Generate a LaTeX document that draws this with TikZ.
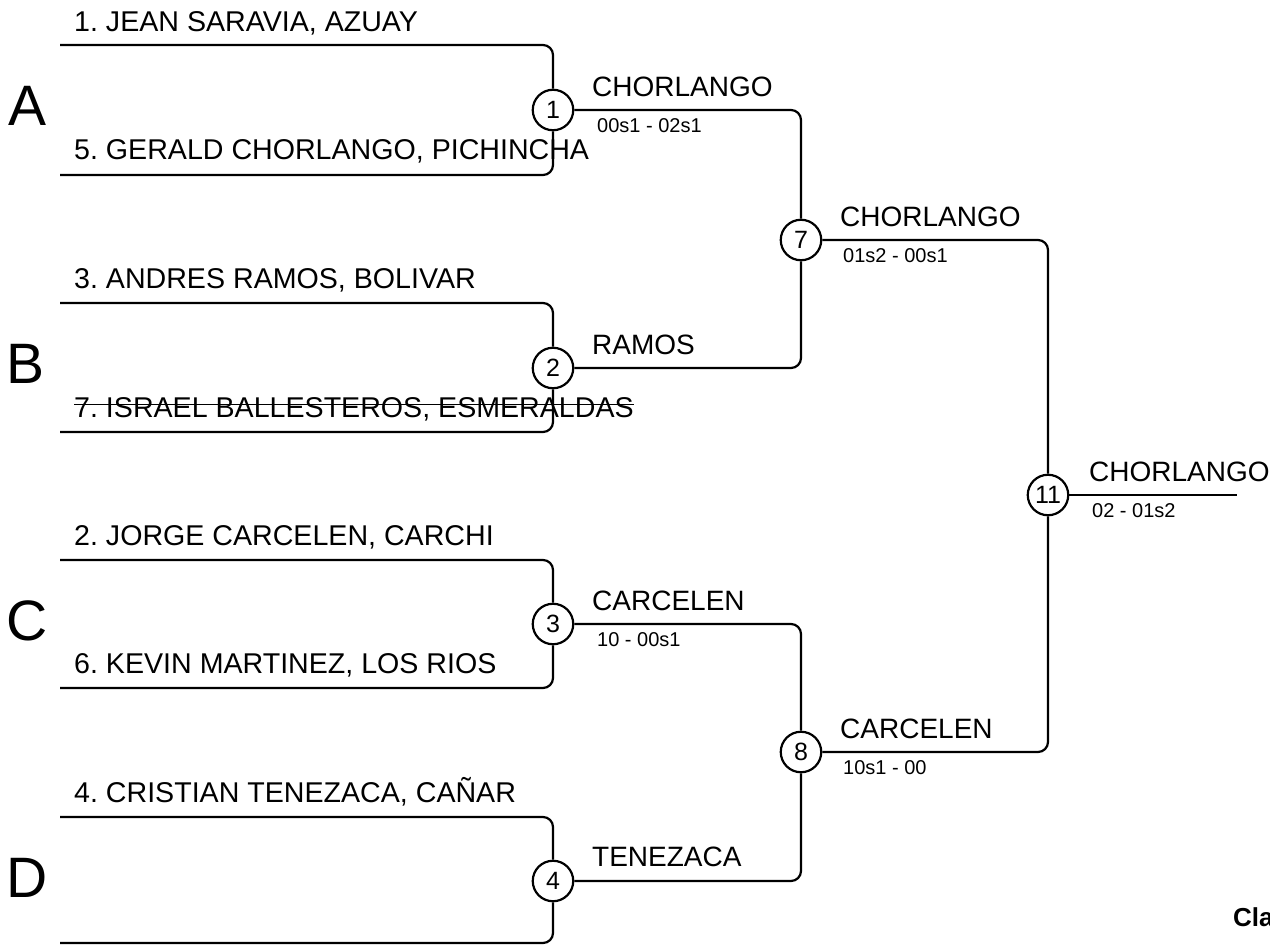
\documentclass[tikz,border=0pt]{standalone}
\usepackage{fontspec}
\setmainfont{Liberation Sans}
\frenchspacing
\begin{document}
\begin{tikzpicture}[x=1pt,y=-1pt,
  wire/.style={line width=2.2pt, rounded corners=10pt},
  match/.style={circle, draw, line width=2.2pt, fill=white, minimum size=40.5pt, inner sep=0pt, font=\fontsize{25}{27}\selectfont},
  player/.style={anchor=base west, inner sep=0pt, font=\fontsize{28.6}{30}\selectfont},
  winner/.style={anchor=base west, inner sep=0pt, font=\fontsize{28}{30}\selectfont},
  score/.style={anchor=base west, inner sep=0pt, font=\fontsize{20}{22}\selectfont},
  group/.style={anchor=base west, inner sep=0pt, font=\fontsize{57}{60}\selectfont},
  strike/.style={line width=1.8pt}]
\useasboundingbox (0,0) rectangle (1270,945);

% bracket end points
\coordinate (p1) at (60,45);
\coordinate (p5) at (60,175);
\coordinate (p3) at (60,303);
\coordinate (p7) at (60,432);
\coordinate (p2) at (60,560);
\coordinate (p6) at (60,688);
\coordinate (p4) at (60,817);
\coordinate (p0) at (60,943);
\coordinate (fin) at (1237,495);

% match circles
\node[match] (m1) at (553,110) {1};
\node[match] (m2) at (553,368) {2};
\node[match] (m3) at (553,624) {3};
\node[match] (m4) at (553,881) {4};
\node[match] (m7) at (801,240) {7};
\node[match] (m8) at (801,752) {8};
\node[match] (m11) at (1048,495) {11};

% connectors
\draw[wire] (p1) -| (m1);
\draw[wire] (p5) -| (m1);
\draw[wire] (p3) -| (m2);
\draw[wire] (p7) -| (m2);
\draw[wire] (p2) -| (m3);
\draw[wire] (p6) -| (m3);
\draw[wire] (p4) -| (m4);
\draw[wire] (p0) -| (m4);
\draw[wire] (m1) -| (m7);
\draw[wire] (m2) -| (m7);
\draw[wire] (m3) -| (m8);
\draw[wire] (m4) -| (m8);
\draw[wire] (m7) -| (m11);
\draw[wire] (m8) -| (m11);
\draw[wire] (m11) -- (fin);

% group letters
\node[group] (gA) at (8,125) {A};
\node[group] (gB) at (6,383) {B};
\node[group] (gC) at (6,640) {C};
\node[group] (gD) at (6,897) {D};

% players
\node[player] (n1) at (74,31) {1. JEAN SARAVIA, AZUAY};
\node[player] (n5) at (74,159) {5. GERALD CHORLANGO, PICHINCHA};
\node[player] (n3) at (74,288) {3. ANDRES RAMOS, BOLIVAR};
\node[player] (n7) at (74,417) {7. ISRAEL BALLESTEROS, ESMERALDAS};
\draw[strike] ([yshift=12.5pt]n7.base west) -- ([yshift=12.5pt]n7.base east);
\node[player] (n2) at (74,545) {2. JORGE CARCELEN, CARCHI};
\node[player] (n6) at (74,673) {6. KEVIN MARTINEZ, LOS RIOS};
\node[player] (n4) at (74,802) {4. CRISTIAN TENEZACA, CAÑAR};

% winners and scores
\node[winner] (w1) at (592,96) {CHORLANGO};
\node[score] (s1) at (597,132) {00s1 - 02s1};
\node[winner] (w2) at (592,354) {RAMOS};
\node[winner] (w3) at (592,610) {CARCELEN};
\node[score] (s3) at (597,646) {10 - 00s1};
\node[winner] (w4) at (592,866) {TENEZACA};
\node[winner] (w7) at (840,226) {CHORLANGO};
\node[score] (s7) at (843,262) {01s2 - 00s1};
\node[winner] (w8) at (840,738) {CARCELEN};
\node[score] (s8) at (843,774) {10s1 - 00};
\node[winner] (w11) at (1089,481) {CHORLANGO};
\node[score] (s11) at (1092,517) {02 - 01s2};

\node[anchor=base west, inner sep=0pt, font=\fontsize{26}{28}\selectfont\bfseries] (cl) at (1233,926) {Cla};
\end{tikzpicture}
\end{document}
